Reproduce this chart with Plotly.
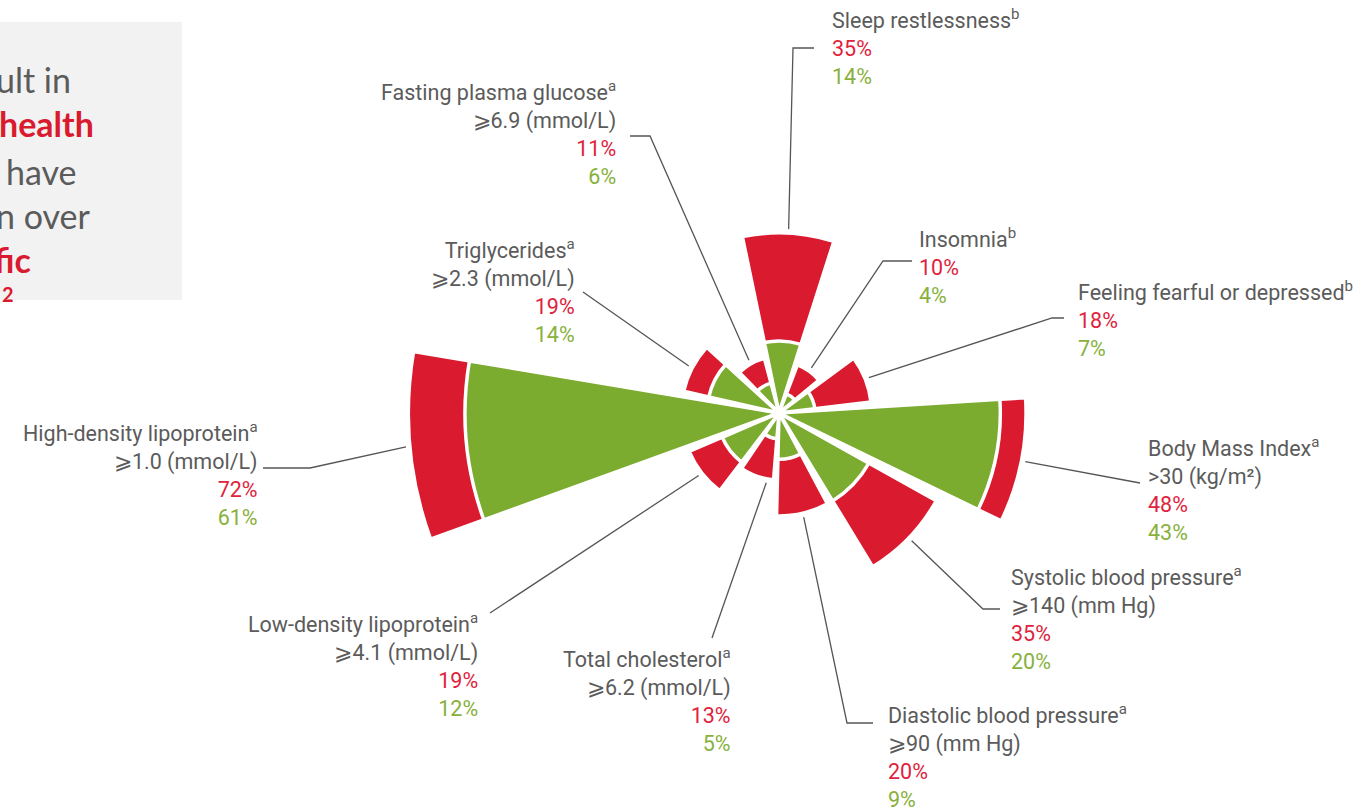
import math
import plotly.graph_objects as go

# ---------------- data ----------------
categories = ["Sleep restlessness", "Insomnia", "Feeling fearful or depressed",
              "Body Mass Index", "Systolic blood pressure", "Diastolic blood pressure",
              "Total cholesterol", "Low-density lipoprotein", "High-density lipoprotein",
              "Triglycerides", "Fasting plasma glucose"]
footnotes = ["b", "b", "b", "a", "a", "a", "a", "a", "a", "a", "a"]
thresholds = ["", "", "", ">30 (kg/m²)", "⩾140 (mm Hg)", "⩾90 (mm Hg)", "⩾6.2 (mmol/L)",
              "⩾4.1 (mmol/L)", "⩾1.0 (mmol/L)", "⩾2.3 (mmol/L)", "⩾6.9 (mmol/L)"]
red_values = [35, 10, 18, 48, 35, 20, 13, 19, 72, 19, 11]
green_values = [14, 4, 7, 43, 20, 9, 5, 12, 61, 14, 6]

# ---------------- styling / layout ----------------
W, H = 1364, 809
CX, CY = 779, 413          # centre of the rose (px)
RMAX = 75                  # radial range
RPX = 386                  # radius in px for RMAX
ROT_OFFSET = 3             # degrees clockwise from north of first sector centre

RED = "#d91a2f"
GREEN = "#7bab2f"
RED_T = "#e0233c"
GREEN_T = "#88b13c"
GREY_T = "#5b5b5b"
LINE_C = "#555555"


def px(x):
    return x / W


def py(y):
    return 1 - y / H


fig = go.Figure()
fig.add_trace(go.Barpolar(r=red_values, theta=categories, marker_color=RED,
                          marker_line_color="white", marker_line_width=3.5,
                          hoverinfo="skip", name="red"))
fig.add_trace(go.Barpolar(r=green_values, theta=categories, marker_color=GREEN,
                          marker_line_color="white", marker_line_width=3.5,
                          hoverinfo="skip", name="green"))

# leader-line layout: angular nudge, elbow/end points (px)
nudges = [0, 0, 0, 0, 0, 0, -9, 0, 0, 0, 0]
leader_pts = [
    [(793, 48), (814, 48)],
    [(883, 261), (912, 261)],
    [(1052, 318), (1064, 318)],
    [(1140, 483)],
    [(983, 609), (1000, 609)],
    [(847, 723), (873, 723)],
    [(712, 638)],
    [(490, 613)],
    [(310, 468), (263, 468)],
    [(583, 292)],
    [(650, 136), (630, 136)],
]
# label anchor: (x px, side, middle y px)
label_pos = [
    (830, "left", 47.5),
    (917, "left", 265.7),
    (1076, "left", 319),
    (1146, "left", 488.5),
    (1009, "left", 617.8),
    (886, "left", 755.5),
    (733, "right", 699.8),
    (480, "right", 665),
    (260, "right", 473.5),
    (577, "right", 290.5),
    (618, "right", 133.3),
]

shapes = []
annotations = []
n = len(categories)
for i in range(n):
    ang = math.radians(i * 360 / n + ROT_OFFSET + nudges[i])
    rp = red_values[i] / RMAX * RPX + 4
    sx = CX + rp * math.sin(ang)
    sy = CY - rp * math.cos(ang)
    pts = [(sx, sy)] + leader_pts[i]
    path = "M " + " L ".join(f"{px(x):.5f},{py(y):.5f}" for x, y in pts)
    shapes.append(dict(type="path", path=path, xref="paper", yref="paper",
                       line=dict(color=LINE_C, width=1.3)))

    text = f"{categories[i]}<sup>{footnotes[i]}</sup>"
    if thresholds[i]:
        text += "<br>" + thresholds[i]
    text += (f"<br><span style='color:{RED_T}'>{red_values[i]}%</span>"
             f"<br><span style='color:{GREEN_T}'>{green_values[i]}%</span>")
    x, side, ym = label_pos[i]
    annotations.append(dict(text=text, x=px(x), y=py(ym), xref="paper", yref="paper",
                            xanchor=side, yanchor="middle", align=side, showarrow=False,
                            font=dict(family="Roboto", size=21.5, color=GREY_T)))

# grey side box (cropped text panel)
shapes.append(dict(type="rect", xref="paper", yref="paper", x0=0, x1=px(182),
                   y0=py(300), y1=py(22), fillcolor="#f2f2f2", line=dict(width=0),
                   layer="below"))
box_lines = [
    ("ult in", 73, 80, GREY_T, False, 34),
    ("health", 96, 124, RED, True, 34),
    ("have", 79, 171, GREY_T, False, 34),
    ("n over", 92, 215, GREY_T, False, 34),
    ("fic", 33, 259, RED, True, 34),
    ("2", 16, 294, RED, True, 20),
]
for t, xr, yc, col, bold, fs in box_lines:
    annotations.append(dict(text=f"<b>{t}</b>" if bold else t, x=px(xr), y=py(yc),
                            xref="paper", yref="paper", xanchor="right", yanchor="middle",
                            showarrow=False, font=dict(family="Lato", size=fs, color=col)))

fig.update_layout(
    width=W, height=H,
    margin=dict(l=0, r=0, t=0, b=0),
    paper_bgcolor="white",
    showlegend=False,
    polar=dict(
        domain=dict(x=[px(CX - RPX), px(CX + RPX)], y=[py(CY + RPX), py(CY - RPX)]),
        bgcolor="white",
        barmode="overlay",
        radialaxis=dict(range=[0, RMAX], visible=False),
        angularaxis=dict(categoryarray=categories, direction="clockwise",
                         rotation=90 - ROT_OFFSET, visible=False),
    ),
    shapes=shapes,
    annotations=annotations,
)

fig.write_html("out.html",
               config={"displayModeBar": False},
               post_script="document.body.style.margin='0';"
                           "document.body.style.overflow='hidden';")
